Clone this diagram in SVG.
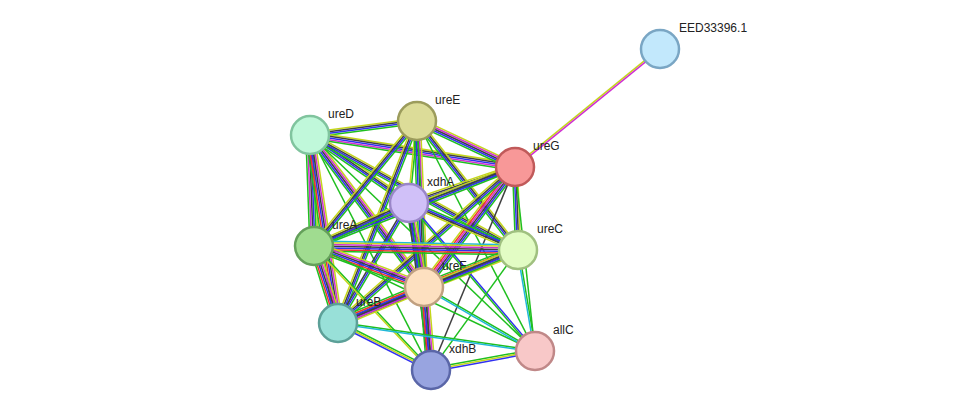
<svg xmlns="http://www.w3.org/2000/svg" width="975" height="416" viewBox="0 0 975 416">
<style>
line{stroke-width:1.5;fill:none}
.y{stroke:#c4d61c}.g{stroke:#1fbf1f}.b{stroke:#3030f0}.k{stroke:#404040}.m{stroke:#d030d0}.r{stroke:#f03030}.c{stroke:#20b8d8}
circle{stroke-width:2.5}
text{font-family:"Liberation Sans",Arial,sans-serif;font-size:12px;fill:#222}
</style>
<rect width="975" height="416" fill="#fff"/>
<g id="connectors">
<g transform="translate(515,167) rotate(-39.1)"><line x2="187" y1="-0.8" y2="-0.8" class="y"/><line x2="187" y1="0.8" y2="0.8" class="m"/></g>
<g transform="translate(310,135) rotate(-7.5)"><line x2="108" y1="-2.5" y2="-2.5" class="y"/><line x2="108" y1="-0.8" y2="-0.8" class="k"/><line x2="108" y1="0.8" y2="0.8" class="b"/><line x2="108" y1="2.5" y2="2.5" class="g"/></g>
<g transform="translate(310,135) rotate(8.9)"><line x2="207" y1="-3.4" y2="-3.4" class="y"/><line x2="207" y1="-1.7" y2="-1.7" class="k"/><line x2="207" y1="0" y2="0" class="b"/><line x2="207" y1="1.7" y2="1.7" class="m"/><line x2="207" y1="3.4" y2="3.4" class="g"/></g>
<g transform="translate(310,135) rotate(34.5)"><line x2="120" y1="-2.5" y2="-2.5" class="y"/><line x2="120" y1="-0.8" y2="-0.8" class="k"/><line x2="120" y1="0.8" y2="0.8" class="b"/><line x2="120" y1="2.5" y2="2.5" class="g"/></g>
<g transform="translate(310,135) rotate(87.9)"><line x2="111" y1="-4.2" y2="-4.2" class="y"/><line x2="111" y1="-2.5" y2="-2.5" class="g"/><line x2="111" y1="-0.8" y2="-0.8" class="b"/><line x2="111" y1="0.8" y2="0.8" class="k"/><line x2="111" y1="2.5" y2="2.5" class="m"/><line x2="111" y1="4.2" y2="4.2" class="g"/></g>
<g transform="translate(310,135) rotate(28.9)"><line x2="238" y1="-2.5" y2="-2.5" class="y"/><line x2="238" y1="-0.8" y2="-0.8" class="k"/><line x2="238" y1="0.8" y2="0.8" class="b"/><line x2="238" y1="2.5" y2="2.5" class="g"/></g>
<g transform="translate(310,135) rotate(53.1)"><line x2="190" y1="-3.4" y2="-3.4" class="y"/><line x2="190" y1="-1.7" y2="-1.7" class="m"/><line x2="190" y1="0" y2="0" class="k"/><line x2="190" y1="1.7" y2="1.7" class="b"/><line x2="190" y1="3.4" y2="3.4" class="g"/></g>
<g transform="translate(310,135) rotate(81.5)"><line x2="190" y1="-4.2" y2="-4.2" class="y"/><line x2="190" y1="-2.5" y2="-2.5" class="m"/><line x2="190" y1="-0.8" y2="-0.8" class="k"/><line x2="190" y1="0.8" y2="0.8" class="b"/><line x2="190" y1="2.5" y2="2.5" class="r"/><line x2="190" y1="4.2" y2="4.2" class="g"/></g>
<g transform="translate(310,135) rotate(43.8)"><line x2="312" class="g"/></g>
<g transform="translate(310,135) rotate(62.8)"><line x2="264" class="g"/></g>
<g transform="translate(417,121) rotate(25.1)"><line x2="108" y1="-3.4" y2="-3.4" class="y"/><line x2="108" y1="-1.7" y2="-1.7" class="m"/><line x2="108" y1="0" y2="0" class="k"/><line x2="108" y1="1.7" y2="1.7" class="b"/><line x2="108" y1="3.4" y2="3.4" class="g"/></g>
<g transform="translate(417,121) rotate(95.6)"><line x2="82" y1="-0.8" y2="-0.8" class="g"/><line x2="82" y1="0.8" y2="0.8" class="y"/></g>
<g transform="translate(417,121) rotate(129.5)"><line x2="162" y1="-2.5" y2="-2.5" class="g"/><line x2="162" y1="-0.8" y2="-0.8" class="b"/><line x2="162" y1="0.8" y2="0.8" class="k"/><line x2="162" y1="2.5" y2="2.5" class="y"/></g>
<g transform="translate(417,121) rotate(51.9)"><line x2="164" y1="-2.5" y2="-2.5" class="y"/><line x2="164" y1="-0.8" y2="-0.8" class="k"/><line x2="164" y1="0.8" y2="0.8" class="b"/><line x2="164" y1="2.5" y2="2.5" class="g"/></g>
<g transform="translate(417,121) rotate(87.6)"><line x2="166" y1="-3.4" y2="-3.4" class="y"/><line x2="166" y1="-1.7" y2="-1.7" class="m"/><line x2="166" y1="0" y2="0" class="k"/><line x2="166" y1="1.7" y2="1.7" class="b"/><line x2="166" y1="3.4" y2="3.4" class="g"/></g>
<g transform="translate(417,121) rotate(111.4)"><line x2="217" y1="-2.5" y2="-2.5" class="g"/><line x2="217" y1="-0.8" y2="-0.8" class="b"/><line x2="217" y1="0.8" y2="0.8" class="k"/><line x2="217" y1="2.5" y2="2.5" class="y"/></g>
<g transform="translate(417,121) rotate(62.8)"><line x2="259" class="g"/></g>
<g transform="translate(417,121) rotate(86.8)"><line x2="249" class="g"/></g>
<g transform="translate(515,167) rotate(161.2)"><line x2="112" y1="-2.5" y2="-2.5" class="g"/><line x2="112" y1="-0.8" y2="-0.8" class="b"/><line x2="112" y1="0.8" y2="0.8" class="k"/><line x2="112" y1="2.5" y2="2.5" class="y"/></g>
<g transform="translate(515,167) rotate(158.5)"><line x2="216" y1="-2.5" y2="-2.5" class="g"/><line x2="216" y1="-0.8" y2="-0.8" class="b"/><line x2="216" y1="0.8" y2="0.8" class="k"/><line x2="216" y1="2.5" y2="2.5" class="y"/></g>
<g transform="translate(515,167) rotate(87.9)"><line x2="83" y1="-2.5" y2="-2.5" class="y"/><line x2="83" y1="-0.8" y2="-0.8" class="k"/><line x2="83" y1="0.8" y2="0.8" class="b"/><line x2="83" y1="2.5" y2="2.5" class="g"/></g>
<g transform="translate(515,167) rotate(127.2)"><line x2="151" y1="-4.2" y2="-4.2" class="g"/><line x2="151" y1="-2.5" y2="-2.5" class="b"/><line x2="151" y1="-0.8" y2="-0.8" class="k"/><line x2="151" y1="0.8" y2="0.8" class="m"/><line x2="151" y1="2.5" y2="2.5" class="r"/><line x2="151" y1="4.2" y2="4.2" class="y"/></g>
<g transform="translate(515,167) rotate(138.6)"><line x2="236" y1="-2.5" y2="-2.5" class="g"/><line x2="236" y1="-0.8" y2="-0.8" class="b"/><line x2="236" y1="0.8" y2="0.8" class="k"/><line x2="236" y1="2.5" y2="2.5" class="y"/></g>
<g transform="translate(515,167) rotate(112.5)"><line x2="220" class="k"/></g>
<g transform="translate(515,167) rotate(83.8)"><line x2="185" class="g"/></g>
<g transform="translate(409,203) rotate(155.6)"><line x2="104" y1="-2.5" y2="-2.5" class="g"/><line x2="104" y1="-0.8" y2="-0.8" class="b"/><line x2="104" y1="0.8" y2="0.8" class="k"/><line x2="104" y1="2.5" y2="2.5" class="y"/></g>
<g transform="translate(409,203) rotate(23.3)"><line x2="119" y1="-2.5" y2="-2.5" class="g"/><line x2="119" y1="-0.8" y2="-0.8" class="b"/><line x2="119" y1="0.8" y2="0.8" class="k"/><line x2="119" y1="2.5" y2="2.5" class="y"/></g>
<g transform="translate(409,203) rotate(79.9)"><line x2="85" y1="-3.4" y2="-3.4" class="y"/><line x2="85" y1="-1.7" y2="-1.7" class="m"/><line x2="85" y1="0" y2="0" class="k"/><line x2="85" y1="1.7" y2="1.7" class="b"/><line x2="85" y1="3.4" y2="3.4" class="g"/></g>
<g transform="translate(409,203) rotate(120.6)"><line x2="139" y1="-1.7" y2="-1.7" class="g"/><line x2="139" y1="0" y2="0" class="b"/><line x2="139" y1="1.7" y2="1.7" class="k"/></g>
<g transform="translate(409,203) rotate(82.5)"><line x2="168" y1="-1.7" y2="-1.7" class="g"/><line x2="168" y1="0" y2="0" class="b"/><line x2="168" y1="1.7" y2="1.7" class="k"/></g>
<g transform="translate(409,203) rotate(49.6)"><line x2="194" y1="-0.8" y2="-0.8" class="b"/><line x2="194" y1="0.8" y2="0.8" class="g"/></g>
<g transform="translate(314,246) rotate(1.1)"><line x2="204" y1="-5" y2="-5" class="c"/><line x2="204" y1="-3.4" y2="-3.4" class="y"/><line x2="204" y1="-1.7" y2="-1.7" class="m"/><line x2="204" y1="0" y2="0" class="k"/><line x2="204" y1="1.7" y2="1.7" class="b"/><line x2="204" y1="3.4" y2="3.4" class="r"/><line x2="204" y1="5" y2="5" class="g"/></g>
<g transform="translate(314,246) rotate(20.4)"><line x2="117" y1="-4.2" y2="-4.2" class="y"/><line x2="117" y1="-2.5" y2="-2.5" class="m"/><line x2="117" y1="-0.8" y2="-0.8" class="k"/><line x2="117" y1="0.8" y2="0.8" class="b"/><line x2="117" y1="2.5" y2="2.5" class="r"/><line x2="117" y1="4.2" y2="4.2" class="g"/></g>
<g transform="translate(314,246) rotate(72.7)"><line x2="81" y1="-4.2" y2="-4.2" class="y"/><line x2="81" y1="-2.5" y2="-2.5" class="m"/><line x2="81" y1="-0.8" y2="-0.8" class="k"/><line x2="81" y1="0.8" y2="0.8" class="b"/><line x2="81" y1="2.5" y2="2.5" class="r"/><line x2="81" y1="4.2" y2="4.2" class="g"/></g>
<g transform="translate(314,246) rotate(46.7)"><line x2="170" y1="-0.8" y2="-0.8" class="g"/><line x2="170" y1="0.8" y2="0.8" class="y"/></g>
<g transform="translate(314,246) rotate(25.4)"><line x2="245" class="g"/></g>
<g transform="translate(518,250) rotate(158.5)"><line x2="101" y1="-4.2" y2="-4.2" class="y"/><line x2="101" y1="-2.5" y2="-2.5" class="m"/><line x2="101" y1="-0.8" y2="-0.8" class="k"/><line x2="101" y1="0.8" y2="0.8" class="b"/><line x2="101" y1="2.5" y2="2.5" class="r"/><line x2="101" y1="4.2" y2="4.2" class="g"/></g>
<g transform="translate(518,250) rotate(157.9)"><line x2="194" y1="-2.5" y2="-2.5" class="g"/><line x2="194" y1="-0.8" y2="-0.8" class="b"/><line x2="194" y1="0.8" y2="0.8" class="k"/><line x2="194" y1="2.5" y2="2.5" class="y"/></g>
<g transform="translate(518,250) rotate(80.4)"><line x2="102" y1="-0.8" y2="-0.8" class="g"/><line x2="102" y1="0.8" y2="0.8" class="c"/></g>
<g transform="translate(518,250) rotate(125.9)"><line x2="148" class="g"/></g>
<g transform="translate(424,287) rotate(157.3)"><line x2="93" y1="-4.2" y2="-4.2" class="y"/><line x2="93" y1="-2.5" y2="-2.5" class="m"/><line x2="93" y1="-0.8" y2="-0.8" class="k"/><line x2="93" y1="0.8" y2="0.8" class="b"/><line x2="93" y1="2.5" y2="2.5" class="r"/><line x2="93" y1="4.2" y2="4.2" class="g"/></g>
<g transform="translate(424,287) rotate(85.2)"><line x2="83" y1="-4.2" y2="-4.2" class="y"/><line x2="83" y1="-2.5" y2="-2.5" class="m"/><line x2="83" y1="-0.8" y2="-0.8" class="k"/><line x2="83" y1="0.8" y2="0.8" class="b"/><line x2="83" y1="2.5" y2="2.5" class="r"/><line x2="83" y1="4.2" y2="4.2" class="g"/></g>
<g transform="translate(424,287) rotate(30)"><line x2="128" y1="-0.8" y2="-0.8" class="g"/><line x2="128" y1="0.8" y2="0.8" class="c"/></g>
<g transform="translate(338,323) rotate(26.8)"><line x2="104" y1="-1.7" y2="-1.7" class="g"/><line x2="104" y1="0" y2="0" class="y"/><line x2="104" y1="1.7" y2="1.7" class="b"/></g>
<g transform="translate(338,323) rotate(8.1)"><line x2="199" y1="-0.8" y2="-0.8" class="g"/><line x2="199" y1="0.8" y2="0.8" class="c"/></g>
<g transform="translate(431,370) rotate(-10.4)"><line x2="106" y1="-1.7" y2="-1.7" class="g"/><line x2="106" y1="0" y2="0" class="y"/><line x2="106" y1="1.7" y2="1.7" class="b"/></g>
</g>
<g id="EED33396.1"><circle cx="660" cy="49" r="19" fill="#c2e8fc" stroke="#7aa6c4"/><text x="679" y="32">EED33396.1</text></g>
<g id="ureD"><circle cx="310" cy="135" r="19" fill="#c0f8da" stroke="#80c49e"/><text x="328" y="118">ureD</text></g>
<g id="ureE"><circle cx="417" cy="121" r="19" fill="#dcdc98" stroke="#9c9c5c"/><text x="435" y="104">ureE</text></g>
<g id="ureG"><circle cx="515" cy="167" r="19" fill="#f89898" stroke="#c05a5a"/><text x="533" y="150">ureG</text></g>
<g id="xdhA"><circle cx="409" cy="203" r="19" fill="#d0c0f8" stroke="#9a86c8"/><text x="427" y="186">xdhA</text></g>
<g id="ureA"><circle cx="314" cy="246" r="19" fill="#a0dc90" stroke="#64a05a"/><text x="332" y="229">ureA</text></g>
<g id="ureC"><circle cx="518" cy="250" r="19" fill="#e2fcc4" stroke="#a0c080"/><text x="537" y="233">ureC</text></g>
<g id="ureF"><circle cx="424" cy="287" r="19" fill="#fde0c0" stroke="#c0a080"/><text x="442" y="270">ureF</text></g>
<g id="ureB"><circle cx="338" cy="323" r="19" fill="#98e0d8" stroke="#5ca098"/><text x="356" y="306">ureB</text></g>
<g id="allC"><circle cx="535" cy="351" r="19" fill="#f8c8c8" stroke="#c08888"/><text x="553" y="334">allC</text></g>
<g id="xdhB"><circle cx="431" cy="370" r="19" fill="#98a4e0" stroke="#5a66a8"/><text x="449" y="353">xdhB</text></g>
</svg>
